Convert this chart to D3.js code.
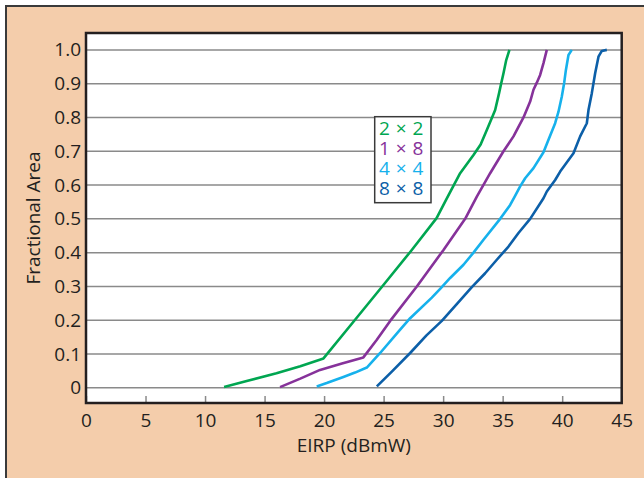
<!DOCTYPE html>
<html>
<head>
<meta charset="utf-8">
<script src="https://cdn.jsdelivr.net/npm/d3@7"></script>
<style>
  body { margin: 0; background: #fff; }
  text { font-family: "Open Sans", sans-serif; fill: #231f20; }
</style>
</head>
<body>
<div id="chart"></div>
<script>
// values: [EIRP dBmW, fractional area]
const seriesNames = ["2 × 2", "1 × 8", "4 × 4", "8 × 8"];
const seriesColors = ["#00a651", "#86329a", "#16b1ec", "#0c5fa8"];

const curve2x2 = [[11.6,0.002],[13.5,0.02],[16.0,0.043],[18.0,0.064],[19.95,0.087],[22.5,0.197],
  [25.0,0.305],[27.3,0.405],[29.45,0.502],[30.3,0.56],[31.43,0.635],[32.55,0.689],[33.15,0.72],
  [33.67,0.763],[34.03,0.793],[34.37,0.822],[34.7,0.872],[34.87,0.9],[35.07,0.931],[35.3,0.97],[35.57,1.0]];
const curve1x8 = [[16.3,0.002],[18,0.027],[19.66,0.053],[21.5,0.072],[23.3,0.09],[24.43,0.142],
  [25.55,0.198],[27.79,0.3],[30.03,0.408],[31.85,0.5],[32.83,0.566],
  [33.95,0.635],[35.07,0.7],[35.91,0.744],[36.75,0.8],[37.31,0.847],[37.59,0.882],[37.87,0.903],
  [38.15,0.926],[38.43,0.961],[38.71,1.0]];
const curve4x4 = [[19.38,0.004],[20.22,0.014],[21.62,0.032],[22.6,0.045],[23.59,0.06],[24.71,0.103],
  [26.39,0.172],[27.23,0.206],[29.05,0.267],[29.75,0.293],[30.59,0.325],[31.71,0.364],[32.55,0.4],
  [33.39,0.438],[34.79,0.5],[35.63,0.541],[36.0,0.565],[36.47,0.596],[36.89,0.62],[37.59,0.65],
  [38.43,0.697],[38.85,0.734],[39.41,0.783],[39.69,0.817],[39.97,0.862],[40.17,0.903],[40.31,0.94],
  [40.53,0.985],[40.81,1.0]];
const curve8x8 = [[24.43,0.004],[25.69,0.048],[27.23,0.103],[28.6,0.155],[29.89,0.198],[31.2,0.25],
  [32.41,0.298],[33.53,0.339],[34.51,0.379],[35.49,0.418],[36.33,0.458],[37.31,0.5],[38.43,0.561],
  [38.71,0.581],[39.41,0.615],[39.83,0.64],[40.95,0.694],[41.51,0.744],[42.07,0.783],[42.21,0.822],
  [42.49,0.872],[42.77,0.931],[43.05,0.98],[43.33,0.997],[43.75,1.0]];

const xTicks = [0, 5, 10, 15, 20, 25, 30, 35, 40, 45];
const yTicks = [0, 0.1, 0.2, 0.3, 0.4, 0.5, 0.6, 0.7, 0.8, 0.9, 1.0];

const curves = [curve2x2, curve1x8, curve4x4, curve8x8];

const width = 644, height = 478;
const margin = {left: 86, right: 22.3, top: 33, bottom: 75};
const fontSize = 19;

const svg = d3.select("#chart").append("svg")
    .attr("width", width)
    .attr("height", height);

// peach panel
svg.append("rect")
    .attr("x", 6).attr("y", 6)
    .attr("width", 700).attr("height", 600)
    .attr("fill", "#f4cdab")
    .attr("stroke", "#3a3a3a")
    .attr("stroke-width", 2);

const x = d3.scaleLinear().domain([0, 45]).range([margin.left, width - margin.right]);
const y = d3.scaleLinear().domain([-0.045, 1.05]).range([height - margin.bottom, margin.top]);

svg.append("rect")
    .attr("x", x.range()[0]).attr("y", y.range()[1])
    .attr("width", x.range()[1] - x.range()[0])
    .attr("height", y.range()[0] - y.range()[1])
    .attr("fill", "#fff");

// gridlines
svg.append("g")
    .selectAll("line")
    .data(yTicks)
    .join("line")
    .attr("x1", x.range()[0]).attr("x2", x.range()[1])
    .attr("y1", d => y(d)).attr("y2", d => y(d))
    .attr("stroke", "#8a8a8a")
    .attr("stroke-width", 1.5);

// x axis, ticks pointing in
const xAxis = svg.append("g")
    .attr("transform", `translate(0,${y.range()[0]})`)
    .call(d3.axisBottom(x).tickValues(xTicks).tickSizeInner(-7).tickSizeOuter(0).tickPadding(11));
xAxis.select(".domain").remove();
xAxis.selectAll("line").attr("stroke", "#8a8a8a").attr("stroke-width", 1.5);
xAxis.selectAll("text").attr("font-size", fontSize).attr("font-family", null).attr("fill", "#231f20");

const yAxis = svg.append("g")
    .attr("transform", `translate(${x.range()[0]},0)`)
    .call(d3.axisLeft(y).tickValues(yTicks).tickSize(0).tickPadding(5)
        .tickFormat(d => d === 0 ? "0" : d3.format(".1f")(d)));
yAxis.select(".domain").remove();
yAxis.selectAll("text").attr("font-size", fontSize).attr("font-family", null).attr("fill", "#231f20");

// curves
const line = d3.line().x(d => x(d[0])).y(d => y(d[1]));
svg.append("g")
    .selectAll("path")
    .data(curves)
    .join("path")
    .attr("fill", "none")
    .attr("stroke", (d, i) => seriesColors[i])
    .attr("stroke-width", 2.6)
    .attr("stroke-linejoin", "round")
    .attr("d", line);

// plot frame
svg.append("rect")
    .attr("x", x.range()[0]).attr("y", y.range()[1])
    .attr("width", x.range()[1] - x.range()[0])
    .attr("height", y.range()[0] - y.range()[1])
    .attr("fill", "none")
    .attr("stroke", "#231f20")
    .attr("stroke-width", 2.5);

// legend
const legend = svg.append("g");
legend.append("rect")
    .attr("x", 374.7).attr("y", 116.7)
    .attr("width", 56.3).attr("height", 86)
    .attr("fill", "#fff")
    .attr("stroke", "#3a3a3a")
    .attr("stroke-width", 1.5);
legend.selectAll("text.item")
    .data(seriesNames)
    .join("text")
    .attr("class", "item")
    .attr("x", 379)
    .attr("y", (d, i) => 134.7 + i * 20.2)
    .attr("font-size", fontSize)
    .attr("word-spacing", 1)
    .style("fill", (d, i) => seriesColors[i])
    .text(d => d);

// axis titles
svg.append("text")
    .attr("x", (x.range()[0] + x.range()[1]) / 2)
    .attr("y", 451.7)
    .attr("text-anchor", "middle")
    .attr("font-size", fontSize)
    .text("EIRP (dBmW)");

svg.append("text")
    .attr("transform", `translate(39.5,${(y.range()[0] + y.range()[1]) / 2}) rotate(-90)`)
    .attr("text-anchor", "middle")
    .attr("font-size", fontSize)
    .text("Fractional Area");
</script>
</body>
</html>
